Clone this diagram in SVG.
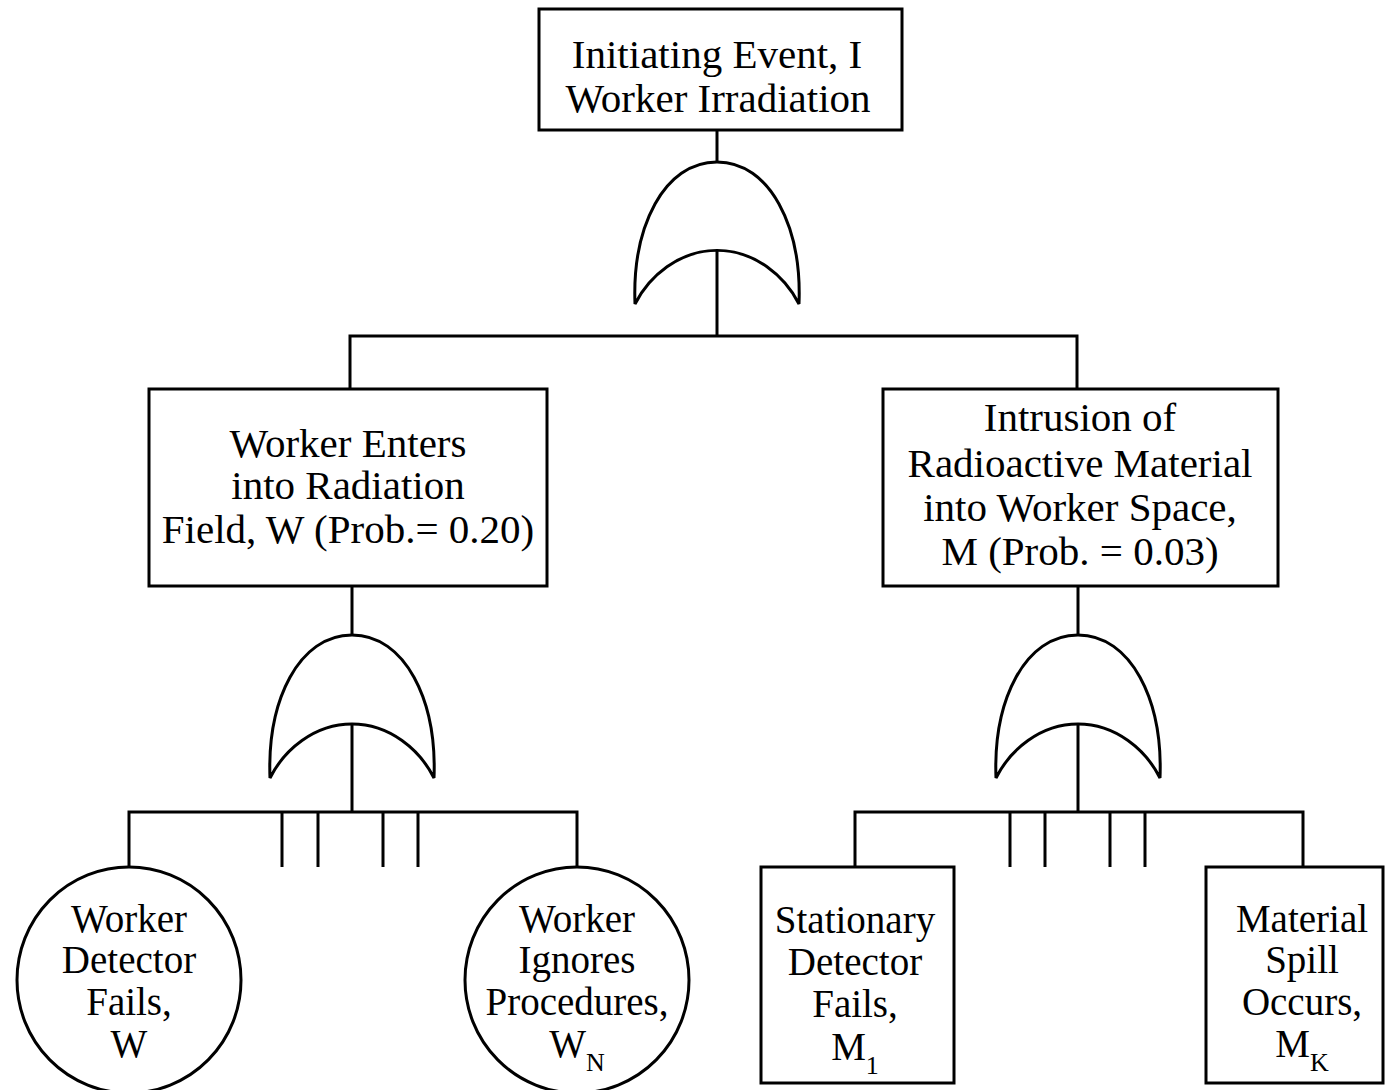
<svg xmlns="http://www.w3.org/2000/svg" xmlns:xlink="http://www.w3.org/1999/xlink" width="1386" height="1090" viewBox="0 0 1386 1090">
<style>
.box{fill:#fff;stroke:#000;stroke-width:3}
.ln{fill:none;stroke:#000;stroke-width:3}
.gate{fill:#fff;stroke:#000;stroke-width:3;stroke-linejoin:miter}
text{font-family:"Liberation Serif","Times New Roman",serif;font-size:41px;fill:#000;text-anchor:middle}
.sm{font-size:39px}
.sub{font-size:26px}
</style>
<defs>
<g id="orgate">
<path class="gate" d="M-82,143 C-85,65 -53,0 0,0 C53,0 85,65 82,143 C68,115 38,89 0,89 C-38,89 -68,115 -82,143 Z"/>
</g>
</defs>
<rect width="1386" height="1090" fill="#fff"/>
<g id="connectors">
<path class="ln" d="M717,130 V162"/>
<path class="ln" d="M717,251 V336"/>
<path class="ln" d="M350,389 V336 H1077 V389"/>
<path class="ln" d="M352,586 V635"/>
<path class="ln" d="M352,724 V812"/>
<path class="ln" d="M129,867 V812 H577 V867"/>
<path class="ln" d="M282,812 V867 M318,812 V867 M383,812 V867 M418,812 V867"/>
<path class="ln" d="M1078,586 V635"/>
<path class="ln" d="M1078,724 V812"/>
<path class="ln" d="M855,867 V812 H1303 V867"/>
<path class="ln" d="M1010,812 V867 M1045,812 V867 M1110,812 V867 M1145,812 V867"/>
</g>
<g id="gate-top"><use xlink:href="#orgate" transform="translate(717,162) scale(1,0.993)"/></g>
<g id="gate-left"><use xlink:href="#orgate" transform="translate(352,635)"/></g>
<g id="gate-right"><use xlink:href="#orgate" transform="translate(1078,635)"/></g>
<g id="node-top">
<rect class="box" x="539" y="9" width="363" height="121"/>
<text x="717" y="68">Initiating Event, I</text>
<text x="718" y="112">Worker Irradiation</text>
</g>
<g id="node-W">
<rect class="box" x="149" y="389" width="398" height="197"/>
<text x="348" y="457">Worker Enters</text>
<text x="348" y="499">into Radiation</text>
<text x="348" y="543">Field, W (Prob.= 0.20)</text>
</g>
<g id="node-M">
<rect class="box" x="883" y="389" width="395" height="197"/>
<text x="1080" y="431">Intrusion of</text>
<text x="1080" y="477">Radioactive Material</text>
<text x="1080" y="521">into Worker Space,</text>
<text x="1080" y="565">M (Prob. = 0.03)</text>
</g>
<g id="node-W1">
<ellipse class="box" cx="129" cy="980" rx="112" ry="113"/>
<text class="sm" x="129" y="932">Worker</text>
<text class="sm" x="129" y="973">Detector</text>
<text class="sm" x="129" y="1015">Fails,</text>
<text class="sm" x="129" y="1057">W</text>
</g>
<g id="node-WN">
<ellipse class="box" cx="577" cy="980" rx="112" ry="113"/>
<text class="sm" x="577" y="932">Worker</text>
<text class="sm" x="577" y="973">Ignores</text>
<text class="sm" x="577" y="1015">Procedures,</text>
<text class="sm" x="577" y="1057">W<tspan class="sub" dy="14">N</tspan></text>
</g>
<g id="node-M1">
<rect class="box" x="761" y="867" width="193" height="216"/>
<text class="sm" x="855" y="933">Stationary</text>
<text class="sm" x="855" y="975">Detector</text>
<text class="sm" x="855" y="1017">Fails,</text>
<text class="sm" x="855" y="1060">M<tspan class="sub" dy="14">1</tspan></text>
</g>
<g id="node-MK">
<rect class="box" x="1206" y="867" width="177" height="216"/>
<text class="sm" x="1302" y="932">Material</text>
<text class="sm" x="1302" y="973">Spill</text>
<text class="sm" x="1302" y="1015">Occurs,</text>
<text class="sm" x="1302" y="1057">M<tspan class="sub" dy="14">K</tspan></text>
</g>
</svg>
